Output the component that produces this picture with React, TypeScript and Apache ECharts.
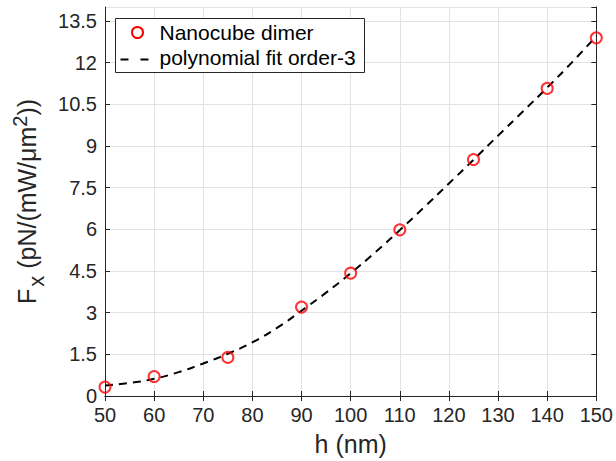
import React, { useEffect, useRef } from "react";
import * as echarts from "echarts";

const hValues = [50, 60, 75, 90, 100, 110, 125, 140, 150];
const fxValues = [0.32, 0.7, 1.39, 3.2, 4.42, 5.98, 8.51, 11.07, 12.89];

const fitH = [50, 55, 60, 65, 70, 75, 80, 85, 90, 95, 100, 105, 110, 115, 120, 125, 130, 135, 140, 145, 150];
const fitFx = [0.38, 0.47, 0.62, 0.86, 1.17, 1.52, 1.93, 2.45, 3.07, 3.72, 4.42, 5.17, 5.97, 6.8, 7.65, 8.5, 9.37, 10.23, 11.1, 12.0, 12.95];

const legendNames = ["Nanocube dimer", "polynomial fit order-3"];

const FONT = "'Liberation Sans', Arial, Helvetica, sans-serif";
const TXT = "#262626";

export default function App() {
  const ref = useRef<HTMLDivElement>(null);
  useEffect(() => {
    if (!ref.current) return;
    const chart = echarts.init(ref.current, undefined, { renderer: "svg" });
    const tickStyle = { show: true, inside: true, length: 5, lineStyle: { color: TXT, width: 1 } };
    const axisLine = { show: true, lineStyle: { color: TXT, width: 1 } };
    const LX = 115.5;
    const LY = 18.5;
    chart.setOption({
      animation: false,
      backgroundColor: "#ffffff",
      grid: { left: 105, right: 18, top: 7, bottom: 62, containLabel: false },
      graphic: [
        {
          type: "rect",
          z: 100,
          shape: { x: LX, y: LY, width: 249, height: 54 },
          style: { fill: "#ffffff", stroke: TXT, lineWidth: 1 },
        },
        {
          type: "circle",
          z: 101,
          shape: { cx: LX + 22, cy: LY + 14, r: 5.5 },
          style: { fill: "none", stroke: "#ff0000", lineWidth: 2 },
        },
        {
          type: "line",
          z: 101,
          shape: { x1: LX + 5, y1: LY + 41, x2: LX + 13, y2: LY + 41 },
          style: { stroke: "#000000", lineWidth: 2 },
        },
        {
          type: "line",
          z: 101,
          shape: { x1: LX + 25, y1: LY + 41, x2: LX + 33, y2: LY + 41 },
          style: { stroke: "#000000", lineWidth: 2 },
        },
        {
          type: "text",
          z: 101,
          x: LX + 44,
          y: LY + 14,
          style: {
            text: legendNames[0],
            fontFamily: FONT,
            fontSize: 21,
            fill: "#000000",
            verticalAlign: "middle",
            align: "left",
          },
        },
        {
          type: "text",
          z: 101,
          x: LX + 44,
          y: LY + 39,
          style: {
            text: legendNames[1],
            fontFamily: FONT,
            fontSize: 21,
            fill: "#000000",
            verticalAlign: "middle",
            align: "left",
          },
        },
      ],
      xAxis: [
        {
          type: "value",
          min: 50,
          max: 150,
          interval: 10,
          name: "h (nm)",
          nameLocation: "middle",
          nameGap: 35,
          nameTextStyle: { fontFamily: FONT, fontSize: 25, color: TXT },
          axisLine,
          axisTick: tickStyle,
          axisLabel: { fontFamily: FONT, fontSize: 20, color: TXT, margin: 9 },
          splitLine: { show: true, lineStyle: { color: "#e3e3e3", width: 1 } },
        },
        {
          type: "value",
          position: "top",
          min: 50,
          max: 150,
          interval: 10,
          axisLine,
          axisTick: tickStyle,
          axisLabel: { show: false },
          splitLine: { show: false },
        },
      ],
      yAxis: [
        {
          type: "value",
          min: 0,
          max: 14,
          interval: 1.5,
          name: "{f|F}{sub|x}{t| (pN/(mW/μm}{sup|2}{t|))}",
          nameLocation: "middle",
          nameGap: 48,
          nameTextStyle: {
            fontFamily: FONT,
            color: TXT,
            rich: {
              f: { fontFamily: FONT, fontSize: 25, color: TXT },
              t: { fontFamily: FONT, fontSize: 25, color: TXT },
              sub: { fontFamily: FONT, fontSize: 22, color: TXT, padding: [18, 0, 0, 2] },
              sup: { fontFamily: FONT, fontSize: 20, color: TXT, padding: [0, 0, 14, 0] },
            },
          },
          axisLine,
          axisTick: tickStyle,
          axisLabel: {
            fontFamily: FONT,
            fontSize: 20,
            color: TXT,
            margin: 8,
            showMaxLabel: false,
            formatter: (v: number) => (v >= 14 ? "" : String(v)),
          },
          splitLine: { show: true, lineStyle: { color: "#e3e3e3", width: 1 } },
        },
        {
          type: "value",
          position: "right",
          min: 0,
          max: 14,
          interval: 1.5,
          axisLine,
          axisTick: tickStyle,
          axisLabel: { show: false },
          splitLine: { show: false },
        },
      ],
      series: [
        {
          name: legendNames[1],
          type: "line",
          data: fitH.map((h, i) => [h, fitFx[i]]),
          smooth: true,
          symbol: "none",
          lineStyle: { color: "#000000", width: 2, type: [8, 6] },
          itemStyle: { color: "#000000" },
          z: 3,
        },
        {
          name: legendNames[0],
          type: "scatter",
          data: hValues.map((h, i) => [h, fxValues[i]]),
          symbol: "circle",
          symbolSize: 11,
          itemStyle: { color: "rgba(0,0,0,0)", borderColor: "#ff0000", borderWidth: 2 },
          z: 4,
        },
      ],
    });
    return () => chart.dispose();
  }, []);
  return <div ref={ref} style={{ position: "fixed", left: 0, top: 0, width: 616, height: 461 }} />;
}
